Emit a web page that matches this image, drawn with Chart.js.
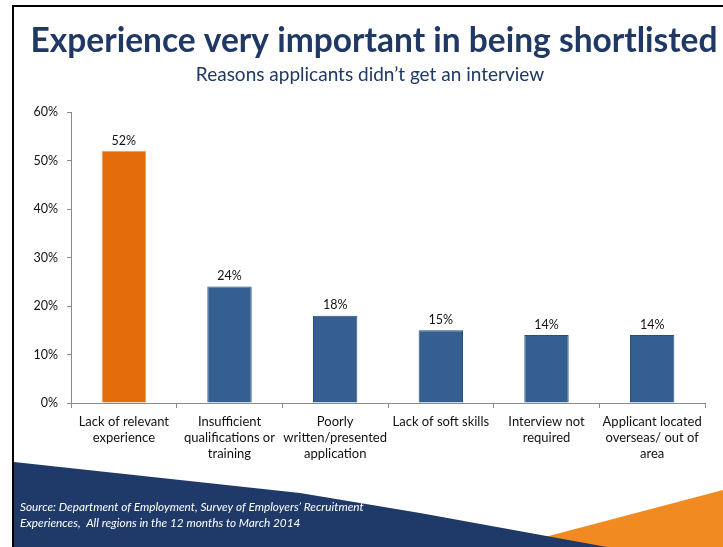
<!DOCTYPE html>
<html>
<head>
<meta charset="utf-8">
<script src="https://cdn.jsdelivr.net/npm/chart.js@4.4.1/dist/chart.umd.min.js"></script>
<style>
  html, body { margin: 0; padding: 0; background: #fff; }
  #chart { display: block; }
</style>
</head>
<body>
<canvas id="chart" width="723" height="547"></canvas>
<script>
const categories = [
    ['Lack of relevant', 'experience'],
    ['Insufficient', 'qualifications or', 'training'],
    ['Poorly', 'written/presented', 'application'],
    ['Lack of soft skills'],
    ['Interview not', 'required'],
    ['Applicant located', 'overseas/ out of', 'area']
];
const shares = [52, 24, 18, 15, 14, 14];
const yTicks = [0, 10, 20, 30, 40, 50, 60];

const titleText = 'Experience very important in being shortlisted';
const subtitleText = 'Reasons applicants didn\u2019t get an interview';
const sourceLines = [
    'Source: Department of Employment, Survey of Employers\u2019 Recruitment',
    'Experiences,  All regions in the 12 months to March 2014'
];

const NAVY = '#1f3a68';
const ORANGE = '#f28a22';
const BAR_ORANGE = '#e46c0a';
const BAR_BLUE = '#365f91';
const AXIS = '#8a8a8a';
const FONT = 'Lato, "Open Sans", sans-serif';

// slide frame, corner shapes and headings behind the chart
const slideDecor = {
    id: 'slideDecor',
    beforeDraw(chart) {
        const ctx = chart.ctx;
        const w = chart.width, h = chart.height;
        ctx.save();
        ctx.fillStyle = '#fff';
        ctx.fillRect(0, 0, w, h);

        ctx.fillStyle = '#000';
        ctx.fillRect(13, 5, w - 13, 2);
        ctx.fillRect(12, 5, 2, h - 5);

        ctx.fillStyle = ORANGE;
        ctx.beginPath();
        ctx.moveTo(507, h);
        ctx.lineTo(w, 490);
        ctx.lineTo(w, h);
        ctx.closePath();
        ctx.fill();

        ctx.fillStyle = NAVY;
        ctx.beginPath();
        ctx.moveTo(14, 462);
        ctx.lineTo(300, 493);
        ctx.lineTo(420, 513);
        ctx.lineTo(607, h);
        ctx.lineTo(14, h);
        ctx.closePath();
        ctx.fill();

        ctx.textAlign = 'center';
        ctx.textBaseline = 'alphabetic';
        ctx.fillStyle = '#1f3864';
        ctx.font = 'bold 33.5px ' + FONT;
        ctx.fillText(titleText, 374, 52);
        ctx.font = '19px ' + FONT;
        ctx.fillText(subtitleText, 370, 81);

        ctx.textAlign = 'left';
        ctx.fillStyle = '#fff';
        ctx.font = 'italic 11.8px ' + FONT;
        ctx.fillText(sourceLines[0], 20, 511);
        ctx.fillText(sourceLines[1], 20, 527);
        ctx.restore();
    }
};

// percentage above each bar
const barValues = {
    id: 'barValues',
    afterDatasetsDraw(chart) {
        const ctx = chart.ctx;
        const meta = chart.getDatasetMeta(0);
        ctx.save();
        ctx.font = '12.5px ' + FONT;
        ctx.fillStyle = '#111';
        ctx.textAlign = 'center';
        ctx.textBaseline = 'bottom';
        meta.data.forEach((bar, i) => {
            ctx.fillText(shares[i] + '%', bar.x, bar.y - 4);
        });
        ctx.restore();
    }
};

const ctx = document.getElementById('chart').getContext('2d');
new Chart(ctx, {
    type: 'bar',
    data: {
        labels: categories,
        datasets: [{
            data: shares,
            backgroundColor: c => c.dataIndex === 0 ? BAR_ORANGE : BAR_BLUE,
            borderColor: c => c.dataIndex === 0 ? '#f0a060' : '#2c4f7a',
            borderWidth: 1,
            categoryPercentage: 1,
            barPercentage: 0.42
        }]
    },
    options: {
        responsive: false,
        animation: false,
        layout: { padding: { top: 112, right: 18, bottom: 0, left: 0 } },
        plugins: {
            legend: { display: false },
            tooltip: { enabled: false }
        },
        scales: {
            x: {
                afterFit: s => { s.height = 144; },
                grid: { drawOnChartArea: false, tickLength: 5, color: AXIS },
                border: { color: AXIS },
                ticks: {
                    autoSkip: false,
                    maxRotation: 0,
                    padding: 6,
                    color: '#111',
                    font: { family: FONT, size: 13, lineHeight: 16 / 13 }
                }
            },
            y: {
                min: 0,
                max: 60,
                afterFit: s => { s.width = 71; },
                afterBuildTicks: s => { s.ticks = yTicks.map(v => ({ value: v })); },
                grid: { drawOnChartArea: false, tickLength: 4, color: AXIS },
                border: { color: AXIS },
                ticks: {
                    padding: 9,
                    color: '#111',
                    font: { family: FONT, size: 12.5 },
                    callback: v => v + '%'
                }
            }
        }
    },
    plugins: [slideDecor, barValues]
});
</script>
</body>
</html>
